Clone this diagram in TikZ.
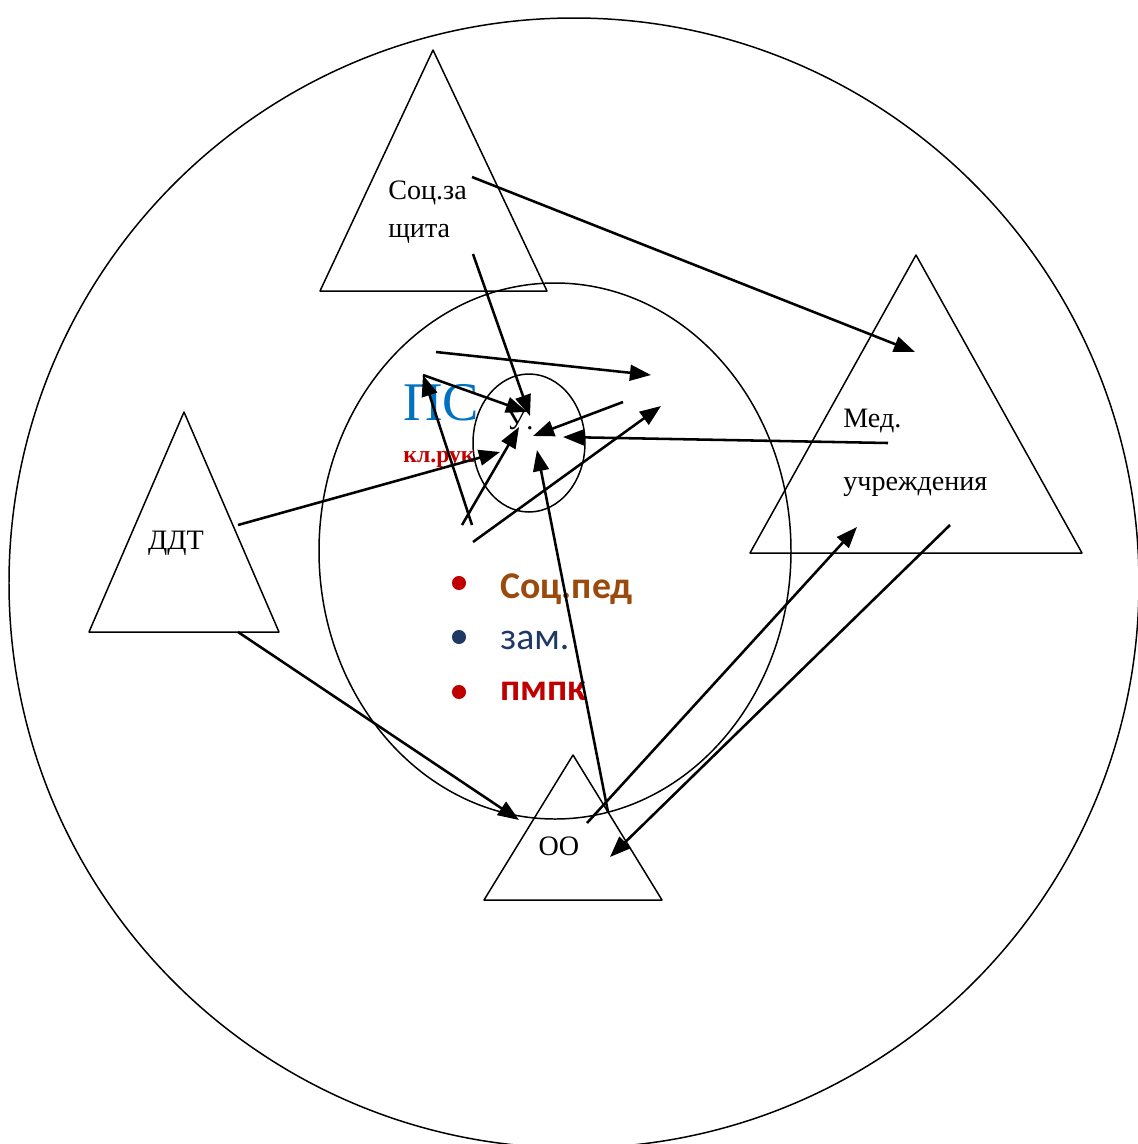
\documentclass[tikz,border=0pt]{standalone}
\usepackage{fontspec}
\setmainfont{Liberation Serif}
\newfontfamily\calibri{Carlito}
\usepackage{xcolor}
\usetikzlibrary{arrows.meta}
\definecolor{psblue}{HTML}{0070C0}
\definecolor{klred}{HTML}{C00000}
\definecolor{pedbrown}{HTML}{9A4A0C}
\definecolor{zamnavy}{HTML}{1F3864}

\begin{document}
\begin{tikzpicture}[x=0.02cm, y=-0.02cm, line join=round,
    outline/.style={line width=0.85pt},
    arr/.style={-{Triangle[length=12pt,width=9pt]}, line width=1.45pt},
    lbl/.style={anchor=base west, inner sep=0pt, font=\fontsize{16}{19}\selectfont},
    item/.style={anchor=base west, inner sep=0pt, font=\calibri\fontsize{21.5}{25}\selectfont},
    dot/.style={circle, inner sep=0pt, minimum size=8pt}]
    \useasboundingbox (0,0) rectangle (1138,1144);

    % circles
    \draw[outline] (574,583) circle[radius=565];
    \draw[outline] (555,551) ellipse[x radius=236, y radius=268];
    \draw[outline] (529,443) ellipse[x radius=56, y radius=69];

    % triangles
    \draw[outline] (433,50) -- (320,291) -- (547,291) -- cycle;
    \draw[outline] (916,255) -- (750,553) -- (1082,553) -- cycle;
    \draw[outline] (184,412) -- (89,632) -- (279,632) -- cycle;
    \draw[outline] (573,755) -- (484,900) -- (662,900) -- cycle;

    % labels
    \node[lbl] (sz1) at (388,199) {Соц.за};
    \node[lbl] (sz2) at (388,237) {щита};
    \node[lbl] (med1) at (843,427) {Мед.};
    \node[lbl] (med2) at (843,490) {учреждения};
    \node[lbl, anchor=base] (ddt) at (176,549) {ДДТ};
    \node[lbl, anchor=base] (oo) at (559,855) {ОО};
    \node[lbl] (u) at (506,429) {У};
    \node[lbl] (udot) at (526,429) {.};
    \node[anchor=base west, inner sep=0pt, text=psblue, font=\fontsize{31}{34}\selectfont] (ps) at (403,420) {ПС};
    \node[anchor=base west, inner sep=0pt, text=klred, font=\bfseries\fontsize{13.5}{16}\selectfont] (klruk) at (403,462) {кл.рук};

    % list
    \node[dot, fill=klred] (b1) at (459,583) {};
    \node[dot, fill=zamnavy] (b2) at (459,637) {};
    \node[dot, fill=klred] (b3) at (459,692) {};
    \node[item, text=pedbrown, font=\calibri\bfseries\fontsize{21.5}{25}\selectfont] (socped) at (500,598) {Соц.пед};
    \node[item, text=zamnavy] (zam) at (500,649) {зам.};
    \node[item, text=klred, font=\calibri\bfseries\fontsize{21.5}{25}\selectfont] (pmpk) at (500,700) {пмпк};

    % arrow ends
    \coordinate (szA) at (472,177);  \coordinate (medT) at (915,352);
    \coordinate (szB) at (473,254);  \coordinate (uT) at (530,416);
    \coordinate (inA) at (436,352);  \coordinate (inAe) at (651,375);
    \coordinate (inB) at (472,525);  \coordinate (pk) at (423,375);
    \coordinate (uTL) at (527,412);
    \coordinate (inC) at (462,525);  \coordinate (uL) at (519,427);
    \coordinate (inD) at (473,542);  \coordinate (inDe) at (661,406);
    \coordinate (inE) at (623,402);  \coordinate (uR) at (533,436);
    \coordinate (medA) at (888,443); \coordinate (uRR) at (563,437);
    \coordinate (ddtA) at (238,525); \coordinate (uW) at (500,452);
    \coordinate (ooA) at (608,812);  \coordinate (uB) at (537,450);
    \coordinate (ddtB) at (238,632); \coordinate (ooL) at (519,820);
    \coordinate (ooB) at (587,823);  \coordinate (medL) at (857,527);
    \coordinate (medB) at (950,525); \coordinate (ooR) at (610,857);

    % arrows
    \draw[arr] (szA) -- (medT);
    \draw[arr] (szB) -- (uT);
    \draw[arr] (inA) -- (inAe);
    \draw[arr] (inB) -- (pk);
    \draw[arr] (pk) -- (uTL);
    \draw[arr] (inC) -- (uL);
    \draw[arr] (inD) -- (inDe);
    \draw[arr] (inE) -- (uR);
    \draw[arr] (medA) -- (uRR);
    \draw[arr] (ddtA) -- (uW);
    \draw[arr] (ooA) -- (uB);
    \draw[arr] (ddtB) -- (ooL);
    \draw[arr] (ooB) -- (medL);
    \draw[arr] (medB) -- (ooR);
\end{tikzpicture}
\end{document}
